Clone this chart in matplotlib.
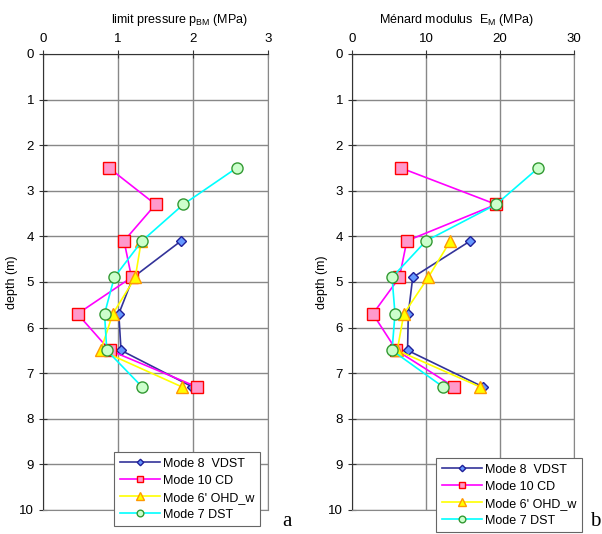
import matplotlib.pyplot as plt

plt.rcParams['font.family'] = ['Liberation Sans', 'DejaVu Sans']

# depths (m)
depth_all = [2.5, 3.3, 4.1, 4.9, 5.7, 6.5, 7.3]
depth_low = [4.1, 4.9, 5.7, 6.5, 7.3]

# limit pressure pBM (MPa)
pl_mode8 = [1.84, 1.20, 1.01, 1.04, 1.99]
pl_mode10 = [0.88, 1.50, 1.08, 1.18, 0.46, 0.89, 2.05]
pl_mode6 = [1.31, 1.23, 0.93, 0.77, 1.85]
pl_mode7 = [2.58, 1.87, 1.32, 0.95, 0.82, 0.85, 1.32]

# Menard modulus EM (MPa)
em_mode8 = [16.0, 8.2, 7.6, 7.5, 17.7]
em_mode10 = [6.6, 19.5, 7.4, 6.4, 2.8, 6.0, 13.8]
em_mode6 = [13.3, 10.3, 7.0, 6.1, 17.3]
em_mode7 = [25.2, 19.5, 10.0, 5.4, 5.8, 5.4, 12.3]

labels = ['Mode 8  VDST', 'Mode 10 CD', "Mode 6' OHD_w", 'Mode 7 DST']

fig = plt.figure(figsize=(6.02, 5.34), dpi=100)
ax1 = fig.add_axes([0.0714, 0.045, 0.374, 0.854])
ax2 = fig.add_axes([0.585, 0.045, 0.368, 0.854])


def draw(ax, d8, d10, d6, d7, xmax, step):
    ax.plot(d8, depth_low, color='#333399', lw=1.2, marker='D', ms=5.5,
            mfc='#6699FF', mec='#1F1F99', mew=1, label=labels[0])
    ax.plot(d10, depth_all, color='#FF00FF', lw=1.2, marker='s', ms=8,
            mfc='#FF99CC', mec='#FF0000', mew=1, label=labels[1])
    ax.plot(d6, depth_low, color='#FFFF00', lw=1.2, marker='^', ms=9,
            mfc='#FFFF00', mec='#FF9900', mew=1, label=labels[2])
    ax.plot(d7, depth_all, color='#00FFFF', lw=1.2, marker='o', ms=8,
            mfc='#CCFFCC', mec='#339933', mew=1, label=labels[3])
    ax.set_xlim(0, xmax)
    ax.set_ylim(10, 0)
    ax.set_xticks(range(0, xmax + 1, step))
    ax.set_yticks(range(0, 11))
    ax.xaxis.tick_top()
    ax.tick_params(direction='inout', length=6, labelsize=9.5, color='#333333')
    ax.grid(True, color='#888888', lw=1)
    for s in ['right', 'bottom']:
        ax.spines[s].set_color('#888888')
    for s in ['top', 'left']:
        ax.spines[s].set_color('#333333')
    ax.set_axisbelow(True)
    ax.set_ylabel('depth (m)', fontsize=9)
    ax.yaxis.set_label_coords(-0.11, 0.5)


draw(ax1, pl_mode8, pl_mode10, pl_mode6, pl_mode7, 3, 1)
draw(ax2, em_mode8, em_mode10, em_mode6, em_mode7, 30, 10)

fig.text(180 / 602, 1 - 20 / 534, r'limit pressure p$_{\mathregular{BM}}$ (MPa)',
         ha='center', va='center', fontsize=9)
fig.text(456 / 602, 1 - 20 / 534, r'Ménard modulus  E$_{\mathregular{M}}$ (MPa)',
         ha='center', va='center', fontsize=9)

leg_kw = dict(loc='upper left', fontsize=9, markerscale=0.6, frameon=True,
              fancybox=False, edgecolor='#666666', framealpha=1,
              handlelength=3.2, labelspacing=0.4, borderpad=0.45,
              handletextpad=0.3, borderaxespad=0)
l1 = ax1.legend(bbox_to_anchor=(114 / 602, 1 - 452 / 534),
                bbox_transform=fig.transFigure, **leg_kw)
l2 = ax2.legend(bbox_to_anchor=(436 / 602, 1 - 458 / 534),
                bbox_transform=fig.transFigure, **leg_kw)
for l in (l1, l2):
    l.get_frame().set_linewidth(0.8)

fig.text(287 / 602, 1 - 522 / 534, 'a', fontsize=15, family='Liberation Serif',
         ha='center', va='center')
fig.text(595 / 602, 1 - 522 / 534, 'b', fontsize=15, family='Liberation Serif',
         ha='center', va='center')

fig.savefig('out.png', dpi=100)
